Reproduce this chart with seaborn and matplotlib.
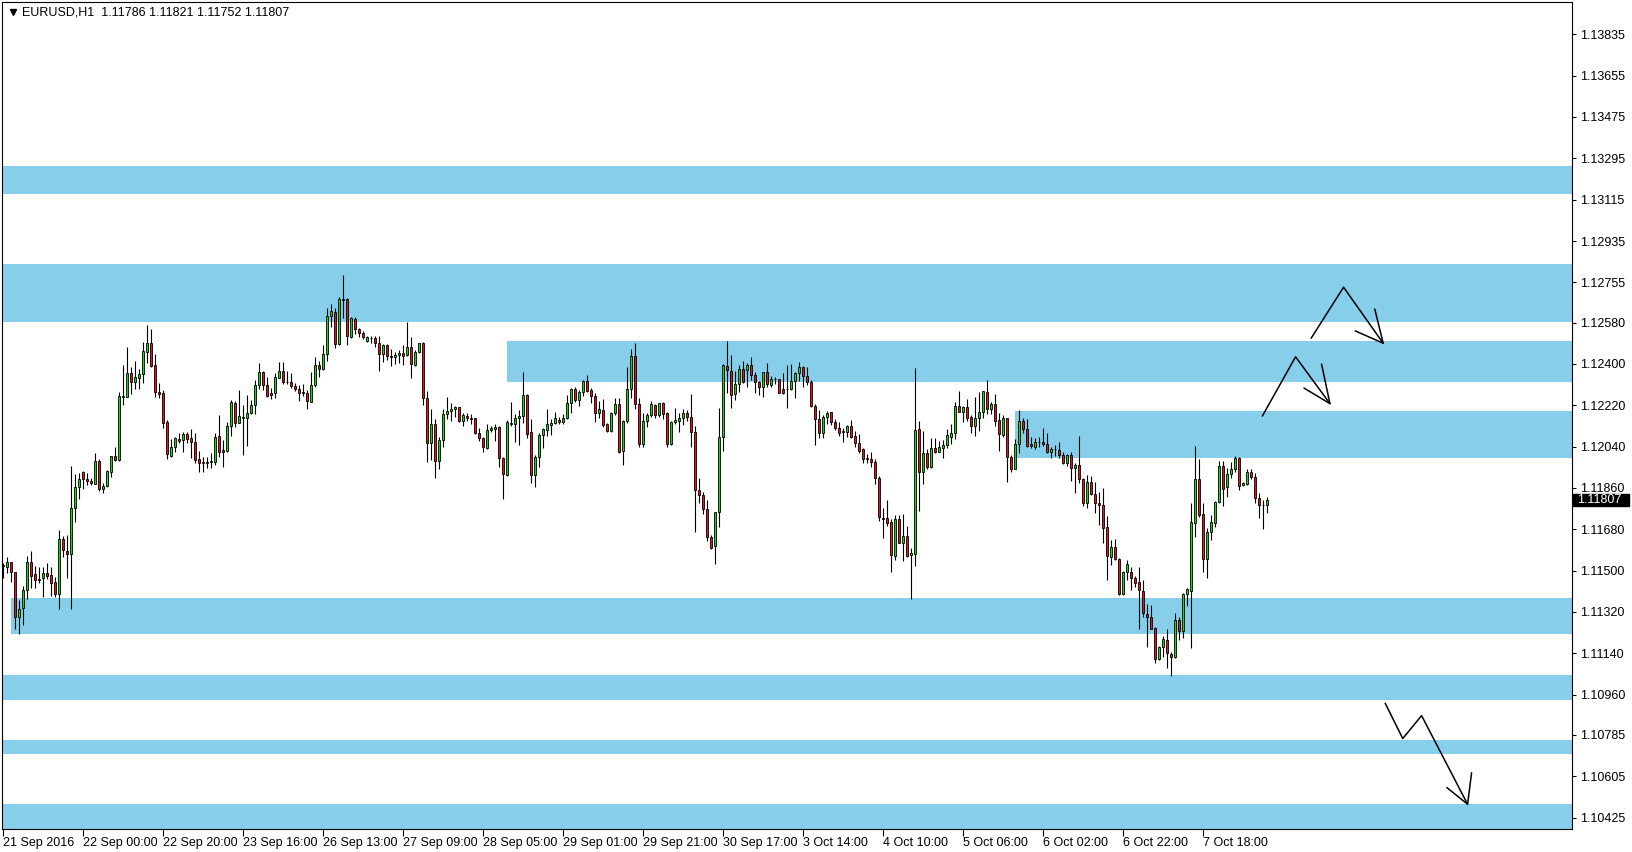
import numpy as np
import pandas as pd
import matplotlib
matplotlib.use('Agg')
import matplotlib.pyplot as plt
import matplotlib.transforms as mtransforms
from matplotlib.patches import Rectangle
import seaborn as sns

sns.set_theme(style='white')
plt.rcParams['font.family'] = ['Liberation Sans', 'DejaVu Sans']

# EURUSD H1 bars, prices in 1e-5 above 1.0 (11520 -> 1.11520)
opens = [
    11520, 11514, 11536, 11493, 11297, 11336, 11416, 11536, 11484, 11465, 11467, 11490, 11480, 11449, 11398, 11636, 11586, 11574, 11774, 11863,
    11928, 11898, 11890, 11879, 11977, 11854, 11869, 11931, 11999, 11982, 12257, 12255, 12360, 12320, 12340, 12355, 12453, 12491, 12395, 12278,
    12273, 12147, 12001, 12037, 12073, 12069, 12093, 12079, 12060, 11985, 11972, 11967, 11974, 11974, 12085, 12024, 12022, 12128, 12231, 12141,
    12170, 12166, 12185, 12223, 12307, 12363, 12307, 12273, 12272, 12340, 12368, 12321, 12321, 12304, 12289, 12278, 12272, 12236, 12308, 12394,
    12378, 12442, 12609, 12626, 12488, 12681, 12681, 12519, 12596, 12551, 12533, 12501, 12511, 12511, 12490, 12442, 12481, 12436, 12429, 12437,
    12448, 12437, 12472, 12397, 12450, 12490, 12250, 12054, 12137, 11976, 12067, 12181, 12194, 12202, 12211, 12150, 12172, 12165, 12163, 12098,
    12076, 12033, 12111, 12118, 12124, 11989, 11918, 12140, 12137, 12163, 12175, 12263, 12102, 11915, 11993, 12089, 12112, 12136, 12143, 12156,
    12149, 12165, 12228, 12289, 12241, 12278, 12326, 12285, 12260, 12185, 12199, 12137, 12107, 12185, 12226, 12019, 12150, 12289, 12434, 12224,
    12050, 12151, 12179, 12220, 12178, 12228, 12185, 12050, 12147, 12150, 12166, 12185, 12168, 12102, 11851, 11828, 11767, 11648, 11606, 11757,
    12080, 12391, 12368, 12268, 12311, 12376, 12374, 12395, 12350, 12320, 12298, 12363, 12307, 12333, 12333, 12289, 12289, 12289, 12327, 12359,
    12388, 12349, 12320, 12218, 12162, 12101, 12170, 12189, 12149, 12122, 12106, 12102, 12130, 12086, 12054, 12028, 11990, 11986, 11972, 11902,
    11728, 11728, 11710, 11565, 11726, 11622, 11649, 11567, 11571, 12115, 11928, 12011, 11950, 12033, 12018, 12035, 12046, 12083, 12098, 12217,
    12192, 12211, 12167, 12131, 12163, 12189, 12276, 12202, 12224, 12156, 12089, 12163, 11996, 11944, 12050, 12152, 12115, 12050, 12040, 12059,
    12059, 12050, 12015, 12028, 12024, 12003, 11967, 12003, 11945, 11960, 11898, 11796, 11886, 11834, 11796, 11786, 11689, 11561, 11604, 11551,
    11397, 11493, 11494, 11467, 11449, 11411, 11311, 11298, 11250, 11117, 11166, 11198, 11137, 11123, 11285, 11239, 11398, 11413, 11706, 11898,
    11747, 11549, 11668, 11706, 11800, 11956, 11863, 11919, 11941, 11990, 11871, 11879, 11929, 11909, 11815, 11784, 11786,
]
highs = [
    11532, 11558, 11536, 11496, 11372, 11433, 11564, 11586, 11520, 11514, 11517, 11535, 11514, 11474, 11677, 11651, 11654, 11956, 11921, 11924,
    11934, 11924, 11905, 12011, 11985, 11880, 11938, 11999, 12040, 12279, 12395, 12475, 12385, 12413, 12378, 12494, 12571, 12553, 12443, 12318,
    12286, 12156, 12073, 12083, 12098, 12105, 12104, 12118, 12098, 12021, 11996, 11996, 12011, 12098, 12178, 12067, 12149, 12243, 12239, 12286,
    12221, 12265, 12243, 12330, 12404, 12371, 12342, 12294, 12362, 12407, 12408, 12368, 12359, 12318, 12308, 12311, 12286, 12363, 12430, 12413,
    12482, 12645, 12661, 12642, 12690, 12787, 12686, 12606, 12606, 12558, 12543, 12523, 12523, 12521, 12521, 12488, 12485, 12465, 12453, 12462,
    12482, 12581, 12519, 12461, 12493, 12497, 12282, 12202, 12159, 12080, 12204, 12255, 12228, 12217, 12214, 12188, 12188, 12182, 12166, 12120,
    12080, 12139, 12130, 12139, 12128, 11993, 12156, 12234, 12181, 12199, 12365, 12268, 12159, 12002, 12098, 12122, 12204, 12159, 12192, 12168,
    12181, 12265, 12297, 12298, 12286, 12330, 12352, 12297, 12272, 12240, 12247, 12141, 12192, 12250, 12250, 12156, 12388, 12465, 12490, 12250,
    12185, 12185, 12240, 12226, 12231, 12234, 12192, 12153, 12207, 12185, 12204, 12199, 12269, 12130, 11905, 11844, 11808, 11654, 11757, 12207,
    12398, 12500, 12439, 12369, 12395, 12414, 12403, 12432, 12363, 12327, 12366, 12403, 12349, 12345, 12334, 12359, 12395, 12398, 12363, 12407,
    12391, 12388, 12330, 12226, 12199, 12178, 12195, 12192, 12159, 12146, 12120, 12134, 12156, 12109, 12095, 12034, 12008, 12017, 11985, 11912,
    11774, 11808, 11723, 11741, 11741, 11747, 11694, 11597, 12382, 12152, 12108, 12028, 12076, 12076, 12065, 12069, 12117, 12137, 12233, 12282,
    12217, 12247, 12178, 12257, 12276, 12284, 12330, 12233, 12268, 12185, 12178, 12166, 12004, 12075, 12199, 12166, 12159, 12080, 12079, 12080,
    12120, 12098, 12040, 12049, 12062, 12017, 12008, 12015, 11967, 12085, 11902, 11916, 11912, 11884, 11844, 11861, 11738, 11633, 11636, 11554,
    11498, 11546, 11514, 11478, 11514, 11459, 11353, 11350, 11253, 11173, 11215, 11246, 11146, 11314, 11300, 11401, 11423, 11793, 12044, 11986,
    11796, 11686, 11744, 11803, 11976, 11976, 11945, 11972, 12001, 11996, 11884, 11943, 11943, 11924, 11840, 11808, 11821,
]
lows = [
    11467, 11488, 11452, 11245, 11223, 11262, 11375, 11423, 11426, 11448, 11384, 11462, 11390, 11387, 11332, 11561, 11467, 11332, 11710, 11810,
    11854, 11873, 11871, 11879, 11848, 11839, 11866, 11909, 11979, 11979, 12223, 12255, 12268, 12291, 12291, 12315, 12405, 12388, 12257, 12250,
    12120, 11985, 11996, 12018, 12054, 12018, 12054, 11989, 11967, 11931, 11931, 11947, 11945, 11960, 11996, 11953, 12018, 12088, 12127, 12141,
    12003, 12043, 12182, 12182, 12291, 12286, 12257, 12247, 12253, 12337, 12311, 12313, 12297, 12282, 12240, 12262, 12204, 12233, 12301, 12344,
    12373, 12414, 12562, 12471, 12482, 12601, 12482, 12514, 12530, 12519, 12508, 12497, 12493, 12475, 12371, 12410, 12417, 12392, 12398, 12403,
    12395, 12436, 12340, 12392, 12446, 12221, 11975, 11982, 11902, 11941, 12040, 12159, 12153, 12168, 12149, 12131, 12153, 12137, 12095, 12065,
    12015, 12030, 12105, 12066, 11950, 11811, 11914, 12130, 12062, 12047, 12144, 12076, 11883, 11863, 11953, 12033, 12086, 12089, 12139, 12139,
    12139, 12159, 12185, 12236, 12217, 12262, 12279, 12228, 12149, 12163, 12124, 12102, 12104, 12178, 12014, 11960, 12144, 12250, 12202, 12037,
    12037, 12124, 12170, 12163, 12168, 12159, 12040, 12046, 12139, 12102, 12134, 12152, 12037, 11670, 11793, 11745, 11631, 11596, 11528, 11689,
    12022, 12272, 12207, 12243, 12279, 12318, 12298, 12330, 12272, 12265, 12257, 12298, 12301, 12311, 12272, 12268, 12207, 12286, 12253, 12326,
    12301, 12308, 12211, 12046, 12079, 12076, 12137, 12134, 12112, 12088, 12059, 12083, 12079, 12040, 12011, 11970, 11970, 11953, 11877, 11718,
    11644, 11696, 11496, 11546, 11619, 11543, 11561, 11375, 11522, 11761, 11877, 11941, 11948, 12014, 12015, 11992, 12033, 12050, 12073, 12189,
    12149, 12152, 12098, 12086, 12109, 12163, 12182, 12182, 12130, 12022, 12083, 11887, 11928, 11941, 12014, 12098, 12040, 12034, 12031, 12040,
    12043, 12014, 11989, 12001, 11992, 11964, 11957, 11892, 11837, 11883, 11783, 11774, 11829, 11752, 11697, 11619, 11459, 11525, 11546, 11394,
    11394, 11459, 11416, 11427, 11245, 11300, 11169, 11245, 11096, 11111, 11125, 11078, 11041, 11118, 11198, 11205, 11348, 11162, 11648, 11735,
    11493, 11467, 11633, 11691, 11793, 11783, 11819, 11902, 11931, 11851, 11868, 11874, 11898, 11793, 11731, 11680, 11752,
]
closes = [
    11523, 11536, 11493, 11300, 11332, 11416, 11536, 11478, 11459, 11458, 11488, 11478, 11448, 11398, 11636, 11590, 11574, 11771, 11863, 11898,
    11898, 11892, 11883, 11977, 11857, 11869, 11934, 11999, 11982, 12260, 12260, 12360, 12320, 12342, 12355, 12456, 12491, 12391, 12279, 12268,
    12144, 12006, 12038, 12079, 12066, 12093, 12075, 12062, 11982, 11970, 11970, 11974, 11976, 12080, 12018, 12015, 12128, 12234, 12144, 12172,
    12166, 12186, 12221, 12307, 12363, 12308, 12262, 12266, 12343, 12368, 12320, 12320, 12305, 12289, 12275, 12272, 12237, 12307, 12394, 12379,
    12442, 12609, 12630, 12488, 12683, 12677, 12523, 12598, 12551, 12533, 12516, 12516, 12512, 12493, 12442, 12481, 12436, 12429, 12439, 12448,
    12436, 12472, 12398, 12450, 12490, 12250, 12054, 12137, 11976, 12067, 12181, 12194, 12202, 12211, 12153, 12176, 12163, 12159, 12098, 12076,
    12037, 12111, 12120, 12124, 11989, 11919, 12146, 12143, 12163, 12175, 12263, 12096, 11915, 11995, 12089, 12115, 12137, 12143, 12163, 12146,
    12165, 12228, 12289, 12241, 12278, 12326, 12284, 12260, 12188, 12202, 12136, 12107, 12185, 12226, 12018, 12150, 12289, 12434, 12224, 12050,
    12151, 12178, 12226, 12176, 12228, 12180, 12050, 12147, 12156, 12165, 12185, 12168, 12102, 11851, 11828, 11767, 11648, 11600, 11757, 12083,
    12394, 12372, 12266, 12313, 12376, 12323, 12395, 12350, 12320, 12298, 12363, 12311, 12333, 12334, 12275, 12275, 12290, 12327, 12359, 12388,
    12349, 12320, 12218, 12162, 12101, 12170, 12185, 12149, 12122, 12101, 12104, 12130, 12083, 12054, 12022, 11988, 11985, 11972, 11902, 11732,
    11727, 11709, 11570, 11726, 11622, 11649, 11565, 11577, 12111, 11931, 12011, 11950, 12033, 12015, 12037, 12047, 12089, 12098, 12217, 12192,
    12211, 12166, 12131, 12163, 12189, 12282, 12202, 12224, 12153, 12093, 12163, 11996, 11944, 12050, 12152, 12115, 12044, 12044, 12059, 12058,
    12050, 12018, 12028, 12030, 12002, 11967, 12003, 11945, 11960, 11898, 11796, 11886, 11832, 11793, 11784, 11687, 11565, 11604, 11549, 11397,
    11493, 11527, 11467, 11448, 11414, 11314, 11300, 11247, 11117, 11168, 11201, 11140, 11123, 11285, 11239, 11398, 11420, 11712, 11898, 11741,
    11549, 11668, 11712, 11799, 11956, 11854, 11921, 11943, 11990, 11870, 11882, 11929, 11906, 11815, 11784, 11785, 11807,
]

x_labels = ['21 Sep 2016', '22 Sep 00:00', '22 Sep 20:00', '23 Sep 16:00', '26 Sep 13:00', '27 Sep 09:00',
            '28 Sep 05:00', '29 Sep 01:00', '29 Sep 21:00', '30 Sep 17:00', '3 Oct 14:00', '4 Oct 10:00',
            '5 Oct 06:00', '6 Oct 02:00', '6 Oct 22:00', '7 Oct 18:00']
y_labels = ['1.13835', '1.13655', '1.13475', '1.13295', '1.13115', '1.12935', '1.12755', '1.12580', '1.12400',
            '1.12220', '1.12040', '1.11860', '1.11680', '1.11500', '1.11320', '1.11140', '1.10960', '1.10785',
            '1.10605', '1.10425']

# support / resistance zones
zone_lo = [1.13138, 1.12584, 1.12323, 1.11992, 1.11223, 1.10936, 1.10701, 1.10300]
zone_hi = [1.13260, 1.12834, 1.12500, 1.12195, 1.11382, 1.11046, 1.10764, 1.10483]
zone_from = [-5, -5, 126, 253, 2, -5, -5, -5]

# hand drawn arrows (bar index, price): path, then arrow head (barb, tip, barb)
arrow1_x = [314.8, 323.1, 331.7]
arrow1_y = [1.12173, 1.12431, 1.12227]
head1_x = [329.6, 331.7, 325.2]
head1_y = [1.12399, 1.12227, 1.12295]
arrow2_x = [327.0, 335.1, 345.0]
arrow2_y = [1.12512, 1.12734, 1.12490]
head2_x = [342.9, 345.0, 338.0]
head2_y = [1.12639, 1.12490, 1.12544]
arrow3_x = [345.5, 349.9, 354.6, 366.1]
arrow3_y = [1.10923, 1.10769, 1.10869, 1.10483]
head3_x = [367.1, 366.1, 360.9]
head3_y = [1.10620, 1.10483, 1.10556]

last_price = '1.11807'
header = 'EURUSD,H1  1.11786 1.11821 1.11752 1.11807'

df = pd.DataFrame({'open': opens, 'high': highs, 'low': lows, 'close': closes}) / 1e5 + 1.0
df['bar'] = np.arange(len(df))
body_col = np.where(df['close'] > df['open'], '#1ed21e',
                    np.where(df['close'] < df['open'], '#d21e1e', 'black'))

fig, ax = plt.subplots(figsize=(16.32, 8.52), dpi=100)
fig.subplots_adjust(left=2/1632, right=1572/1632, top=1-2/852, bottom=1-829/852)

for lo, hi, x0 in zip(zone_lo, zone_hi, zone_from):
    ax.fill_between([x0, 500], lo, hi, color='#87ceeb', lw=0, zorder=1)

ax.vlines(df['bar'], df['low'], df['high'], color='black', lw=0.8, zorder=2)
ax.bar(df['bar'], df['close'] - df['open'], bottom=df['open'], width=0.55,
       color=body_col, edgecolor='black', linewidth=0.6, zorder=3)

for xs, ys in [(arrow1_x, arrow1_y), (head1_x, head1_y), (arrow2_x, arrow2_y),
               (head2_x, head2_y), (arrow3_x, arrow3_y), (head3_x, head3_y)]:
    sns.lineplot(x=xs, y=ys, sort=False, estimator=None, color='black', lw=1.1, ax=ax, zorder=4)

ax.set_xlim(-0.25, 392.2)
ax.set_ylim(1.103753, 1.139756)

ax.set_xticks(np.arange(0, 20 * len(x_labels), 20), labels=x_labels)
ax.set_yticks([float(v) for v in y_labels], labels=y_labels)
ax.yaxis.tick_right()
ax.tick_params(axis='x', bottom=True, length=5, width=0.8, color='black', labelsize=9, pad=1, labelcolor='black')
ax.tick_params(axis='y', right=True, left=False, labelright=True, labelleft=False,
               length=3, width=0.8, color='black', labelsize=9, pad=3, labelcolor='black')
for t in ax.get_xticklabels():
    t.set_ha('left')
for s in ax.spines.values():
    s.set_color('black')
    s.set_linewidth(0.8)
ax.set_xlabel('')
ax.set_ylabel('')

# current price marker on the right scale
trans = mtransforms.blended_transform_factory(ax.transAxes, ax.transData)
ax.add_patch(Rectangle((1.0006, 1.11807 - 0.00027), 0.0357, 0.00054, transform=trans,
                       facecolor='black', edgecolor='black', clip_on=False, zorder=5))
ax.text(1.0035, 1.11807, last_price, transform=trans, color='white', fontsize=9,
        va='center', ha='left', zorder=6, clip_on=False)

# header
ax.plot([0.0070], [0.9885], marker='v', ms=5, color='black', transform=ax.transAxes)
ax.text(0.0127, 0.9875, header, transform=ax.transAxes, fontsize=9, va='center', ha='left', color='black')

fig.savefig('out.png', dpi=100)
